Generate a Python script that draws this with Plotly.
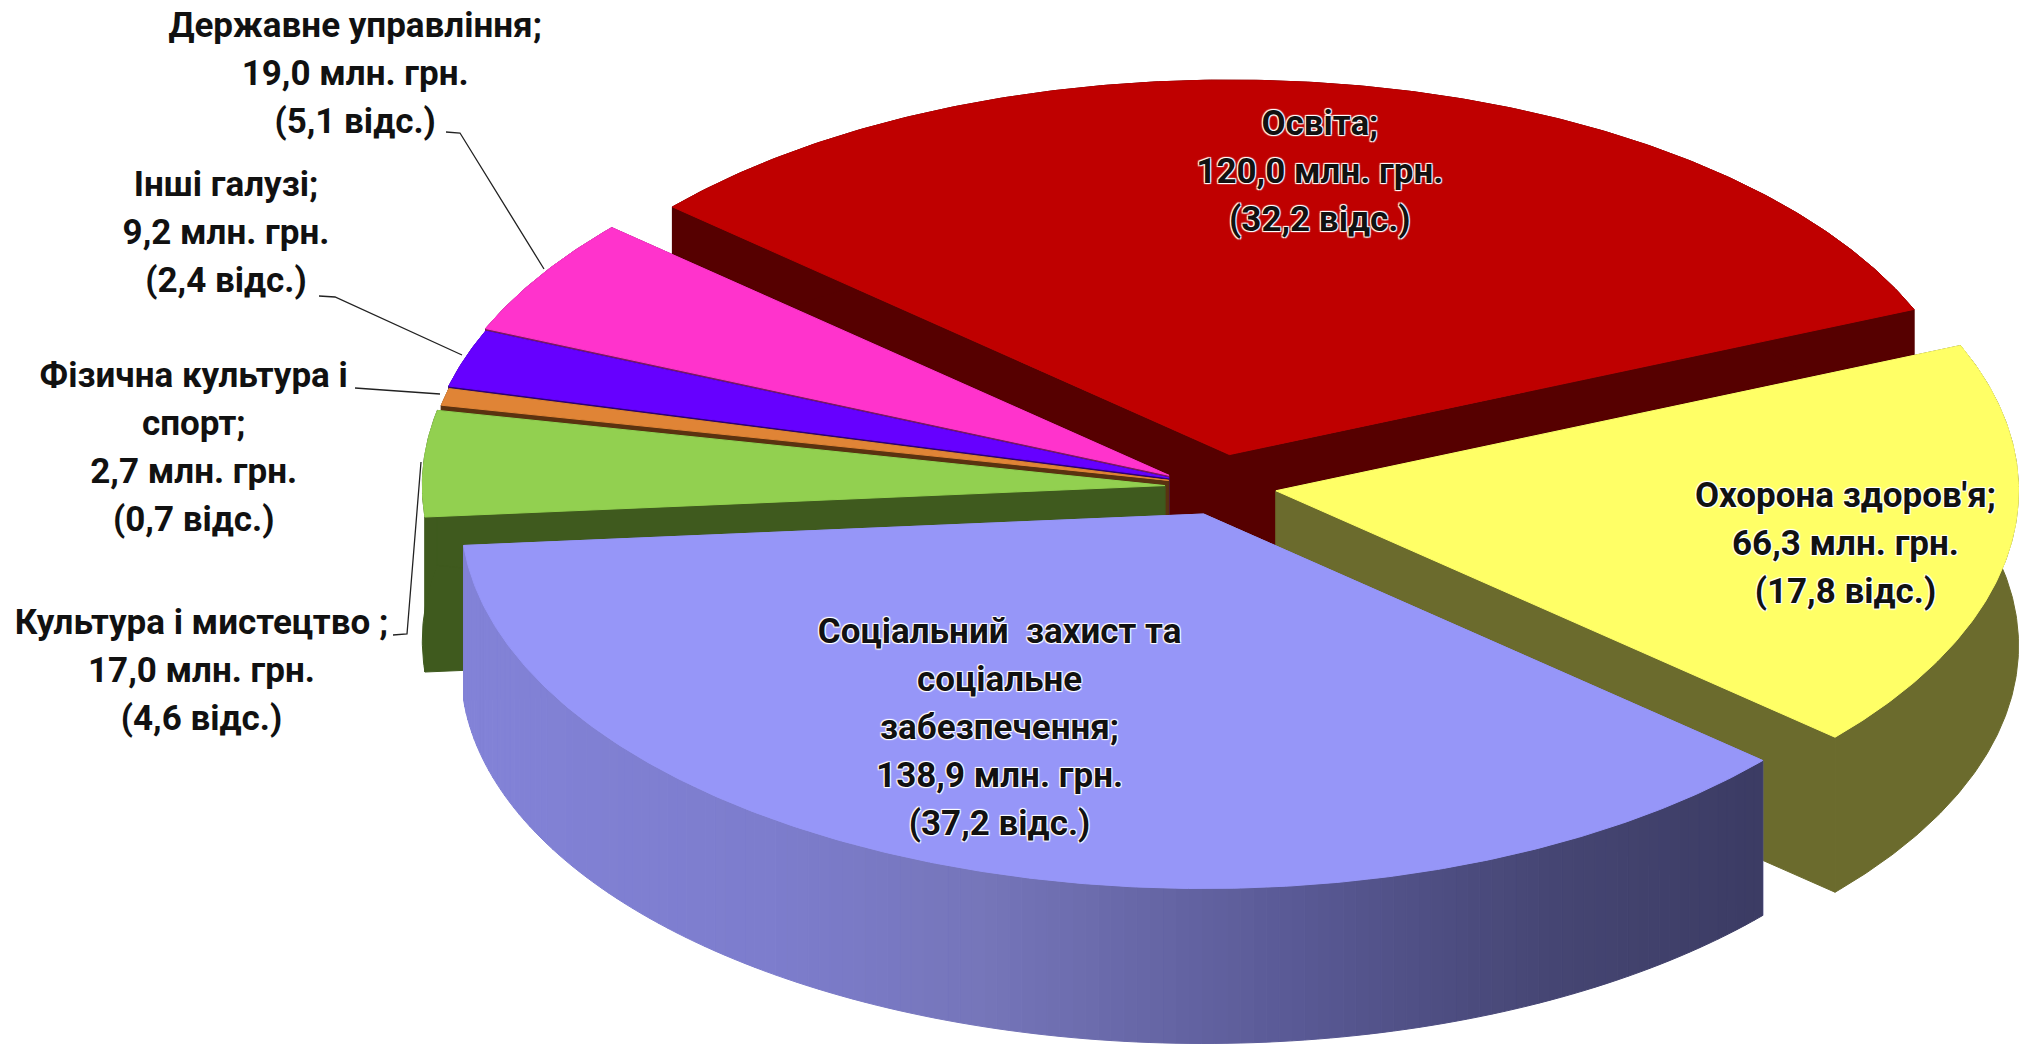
import math
import plotly.graph_objects as go

# ---- data ----
categories = ["Освіта", "Охорона здоров'я", "Соціальний  захист та соціальне забезпечення",
              "Культура і мистецтво", "Фізична культура і спорт", "Інші галузі", "Державне управління"]
values = [120.0, 66.3, 138.9, 17.0, 2.7, 9.2, 19.0]
shares = [32.2, 17.8, 37.2, 4.6, 0.7, 2.4, 5.1]
name_lines = [["Освіта;"], ["Охорона здоров'я;"],
              ["Соціальний  захист та", "соціальне", "забезпечення;"],
              ["Культура і мистецтво ;"], ["Фізична культура і", "спорт;"],
              ["Інші галузі;"], ["Державне управління;"]]

# ---- styling and layout ----
S = 2025 / 1568
A, B, H = 575 * S, 290 * S, 120 * S
START = 138.6
APEX = [(952, 352), (988, 380), (932, 398), (902, 376), (905, 372), (905, 370), (905, 368)]
TOP = ["#BF0000", "#FFFF66", "#9696F8", "#92D050", "#E08436", "#6600FF", "#FF33CC"]
WALL = ["#560000", "#6B6B2D", "#7C7CC8", "#3F5A1E", "#5A3210", "#2E0073", "#7A1860"]
ORDER = [0, 6, 5, 4, 3, 1, 2]
LABEL_X = [1022, 1429, 774, 156, 150, 175, 275]
LABEL_Y = [98, 386, 491, 484, 293, 145, 22]
LINE_STEP = 37.2
GRADIENT = [(358, (131, 131, 216)), (600, (125, 125, 205)), (760, (118, 118, 186)),
            (1000, (90, 90, 150)), (1200, (70, 70, 116)), (1362, (60, 60, 100))]
LEADERS = [[(446, 132), (460, 133), (544, 269)],
           [(319, 296), (335, 297), (462, 355)],
           [(355, 388), (440, 394)],
           [(393, 635), (407, 634), (421, 462)]]
FONT = "Roboto"
FONT_SIZE = 35
HALO = "1px 1px 1px #fff, -1px -1px 1px #fff, 1px -1px 1px #fff, -1px 1px 1px #fff"


def point(apex, deg):
    t = math.radians(deg)
    return (apex[0] * S + A * math.cos(t), apex[1] * S - B * math.sin(t))


def arc(apex, a0, a1):
    n = max(2, int(abs(a1 - a0) * 2))
    return [point(apex, a0 + (a1 - a0) * i / n) for i in range(n + 1)]


def poly(fig, pts, color):
    fig.add_trace(go.Scatter(x=[p[0] for p in pts] + [pts[0][0]],
                             y=[p[1] for p in pts] + [pts[0][1]],
                             mode="lines", fill="toself", fillcolor=color,
                             line=dict(color=color, width=1),
                             hoverinfo="skip", showlegend=False))


def grad(x):
    x = x / S
    for (x0, c0), (x1, c1) in zip(GRADIENT, GRADIENT[1:]):
        if x <= x1:
            f = max(0, (x - x0) / (x1 - x0))
            return "rgb(%d,%d,%d)" % tuple(c0[k] + (c1[k] - c0[k]) * f for k in range(3))
    return "rgb(%d,%d,%d)" % GRADIENT[-1][1]


total = sum(values)
bounds = [START]
for v in values:
    bounds.append(bounds[-1] - 360 * v / total)

fig = go.Figure()
for i in ORDER:
    a0, a1 = bounds[i], bounds[i + 1]
    apex = APEX[i]
    c = (apex[0] * S, apex[1] * S)
    rim = arc(apex, a0, a1)
    lowered = lambda p: (p[0], p[1] + H)
    # radial walls
    poly(fig, [c, rim[0], lowered(rim[0]), lowered(c)], WALL[i])
    poly(fig, [c, rim[-1], lowered(rim[-1]), lowered(c)], WALL[i])
    # rim wall
    if i == 2:
        for p, q in zip(rim[::2], rim[2::2]):
            poly(fig, [p, q, lowered(q), lowered(p)], grad((p[0] + q[0]) / 2))
    else:
        poly(fig, rim + [lowered(p) for p in reversed(rim)], WALL[i])
    # top face
    poly(fig, [c] + rim, TOP[i])

for line in LEADERS:
    fig.add_trace(go.Scatter(x=[p[0] * 1 for p in line], y=[p[1] for p in line], mode="lines",
                             line=dict(color="#222222", width=1.3),
                             hoverinfo="skip", showlegend=False))

tx, ty, tt = [], [], []
for i in range(len(categories)):
    value_text = f"{values[i]:.1f}".replace(".", ",") + " млн. грн."
    share_text = "(" + f"{shares[i]:.1f}".replace(".", ",") + " відс.)"
    for k, line in enumerate(name_lines[i] + [value_text, share_text]):
        tx.append(LABEL_X[i] * S)
        ty.append((LABEL_Y[i] + k * LINE_STEP) * S)
        tt.append(line)
fig.add_trace(go.Scatter(x=tx, y=ty, text=tt, mode="text", textposition="middle center",
                         textfont=dict(family=FONT, size=FONT_SIZE, color="#111111",
                                       weight="bold", shadow=HALO),
                         hoverinfo="skip", showlegend=False))

fig.update_layout(width=2025, height=1045, margin=dict(l=0, r=0, t=0, b=0),
                  paper_bgcolor="white", plot_bgcolor="white", showlegend=False,
                  xaxis=dict(range=[0, 2025], visible=False, fixedrange=True),
                  yaxis=dict(range=[1045, 0], visible=False, fixedrange=True))
fig.write_html("out.html", post_script="document.body.style.margin='0';",
               config=dict(displayModeBar=False))
